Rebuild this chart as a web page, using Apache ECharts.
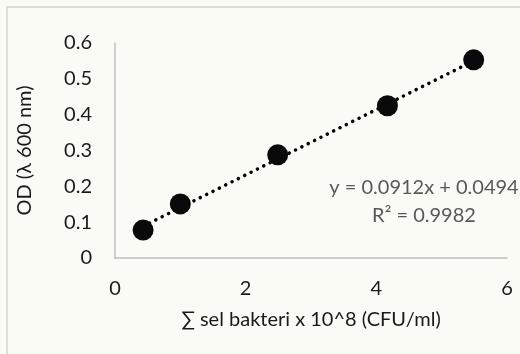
<!DOCTYPE html>
<html><head><meta charset="utf-8">
<script src="https://cdn.jsdelivr.net/npm/echarts@6/dist/echarts.min.js"></script>
<style>html,body{margin:0;padding:0;background:#fbfbf5}#c{width:520px;height:354px}</style>
</head><body><div id="c"></div>
<script>
const xValues = [0.43, 1.0, 2.49, 4.17, 5.49];
const odValues = [0.078, 0.151, 0.288, 0.425, 0.553];
const trendX = [0.43, 5.49];
const trendY = [0.0886, 0.5501];
const equationText = 'y = 0.0912x + 0.0494';
const r2Text = 'R² = 0.9982';
const xTitle = '∑ sel bakteri x 10^8 (CFU/ml)';
const yTitle = 'OD (λ 600 nm)';

const font = 'Lato, "Open Sans", sans-serif';
const chart = echarts.init(document.getElementById('c'));
chart.setOption({
  backgroundColor: '#fbfbf5',
  animation: false,
  grid: {left: 115, right: 13, top: 43, bottom: 96},
  xAxis: {
    type: 'value', min: 0, max: 6, interval: 2,
    name: xTitle, nameLocation: 'middle', nameGap: 52,
    nameTextStyle: {fontFamily: font, fontSize: 20, color: '#1a1a1a'},
    axisLine: {show: true, lineStyle: {color: '#bfbfbf', width: 1.5}},
    axisTick: {show: false}, splitLine: {show: false},
    axisLabel: {fontFamily: font, fontSize: 20, color: '#1a1a1a', margin: 21}
  },
  yAxis: {
    type: 'value', min: 0, max: 0.6, interval: 0.1,
    name: yTitle, nameLocation: 'middle', nameGap: 80, nameRotate: 90,
    nameTextStyle: {fontFamily: font, fontSize: 20, color: '#1a1a1a'},
    axisLine: {show: true, lineStyle: {color: '#bfbfbf', width: 1.5}},
    axisTick: {show: false}, splitLine: {show: false},
    axisLabel: {fontFamily: font, fontSize: 20, color: '#1a1a1a', margin: 23,
      formatter: v => (Math.round(v * 10) / 10).toString()}
  },
  series: [
    {type: 'line', data: trendX.map((x, i) => [x, trendY[i]]), symbol: 'none',
     lineStyle: {color: '#000', width: 3.5, type: [0.1, 7], cap: 'round'}, z: 2},
    {type: 'scatter', data: xValues.map((x, i) => [x, odValues[i]]), symbolSize: 21,
     itemStyle: {color: '#0a0a0a', opacity: 1}, z: 3}
  ],
  graphic: [
    {type: 'rect', shape: {x: 7, y: 7, width: 560, height: 400}, style: {fill: null, stroke: '#d4d4d0', lineWidth: 1.5}, z: -1},
    {type: 'text', x: 424, y: 188, style: {text: equationText, font: '20px ' + font, fill: '#595959', align: 'center', verticalAlign: 'middle'}},
    {type: 'text', x: 424, y: 216, style: {text: r2Text, font: '20px ' + font, fill: '#595959', align: 'center', verticalAlign: 'middle'}}
  ]
});
</script></body></html>
